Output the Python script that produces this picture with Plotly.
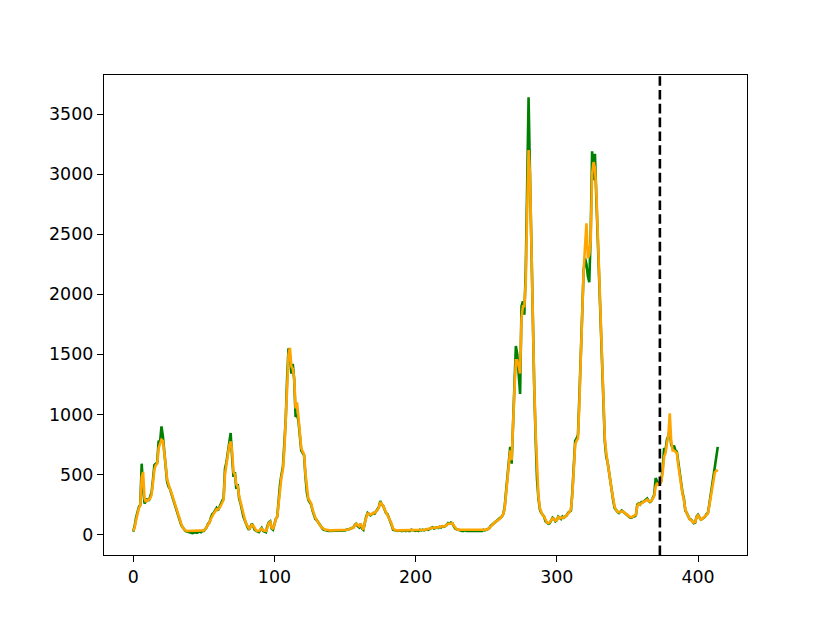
import plotly.graph_objects as go

actual = [
    25, 70, 140, 200, 230, 250, 590, 380, 260, 275,
    300, 280, 310, 350, 460, 580, 590, 600, 780, 770,
    900, 820, 690, 560, 440, 400, 380, 340, 300, 270,
    220, 190, 150, 110, 80, 60, 40, 30, 25, 20,
    15, 15, 12, 15, 20, 15, 18, 25, 20, 30,
    30, 45, 60, 90, 100, 140, 170, 180, 200, 220,
    200, 230, 250, 280, 300, 550, 600, 690, 760, 845,
    650, 480, 520, 380, 420, 300, 260, 200, 150, 120,
    80, 60, 40, 60, 90, 70, 40, 30, 25, 20,
    40, 55, 30, 25, 20, 70, 100, 110, 50, 40,
    100, 130, 150, 300, 420, 500, 560, 750, 960, 1300,
    1550, 1490, 1340, 1420, 1290, 980, 1000, 950, 850, 700,
    680, 660, 480, 350, 290, 270, 250, 200, 160, 130,
    120, 100, 90, 60, 50, 40, 40, 35, 30, 30,
    30, 30, 35, 30, 30, 30, 35, 30, 30, 35,
    35, 40, 40, 45, 50, 55, 60, 80, 90, 70,
    60, 90, 50, 40, 110, 150, 180, 170, 160, 170,
    180, 175, 190, 210, 230, 280, 250, 240, 200, 180,
    170, 140, 120, 80, 40, 35, 30, 30, 35, 30,
    30, 30, 35, 30, 35, 30, 30, 40, 35, 35,
    30, 35, 30, 40, 35, 40, 35, 40, 45, 40,
    50, 55, 60, 50, 55, 60, 55, 65, 60, 70,
    65, 70, 80, 95, 90, 100, 95, 70, 50, 45,
    40, 40, 35, 30, 30, 35, 30, 30, 35, 30,
    30, 35, 30, 35, 30, 30, 35, 30, 40, 35,
    40, 45, 50, 70, 80, 95, 100, 110, 120, 130,
    140, 150, 170, 220, 350, 480, 600, 730, 590, 900,
    1250, 1570, 1500, 1350, 1170, 1900, 1940, 1830, 2200, 2900,
    3640, 3000, 2350, 1600, 1230, 800, 460, 300, 210, 180,
    160, 150, 110, 100, 90, 95, 120, 140, 130, 110,
    120, 150, 140, 130, 150, 140, 150, 160, 180, 190,
    200, 350, 600, 780, 800, 830, 1150, 1550, 1900, 2200,
    2300, 2250, 2150, 2100, 2500, 3190, 2950, 3170, 2800, 2450,
    2100, 1800, 1450, 1100, 775, 650, 600, 520, 430, 350,
    280, 220, 200, 190, 180, 190, 200, 190, 180, 170,
    160, 150, 140, 140, 150, 150, 160, 250, 260, 250,
    270, 270, 280, 290, 300, 280, 270, 280, 300, 330,
    470, 450, 420, 430, 450, 550, 720, 700, 790, 820,
    880, 750, 720, 740, 700, 690, 600, 500, 420, 350,
    300, 200, 180, 150, 130, 125, 110, 95, 100, 150,
    165, 140, 125, 130, 140, 150, 170, 180, 250, 330,
    400, 500, 560, 620, 730,
]

predicted = [
    30, 60, 120, 180, 220, 240, 480, 520, 300, 270,
    290, 290, 300, 330, 420, 540, 580, 590, 720, 760,
    790, 780, 700, 580, 460, 410, 380, 350, 310, 280,
    230, 190, 160, 120, 90, 60, 45, 35, 30, 30,
    30, 30, 30, 30, 30, 30, 30, 30, 30, 35,
    35, 45, 60, 85, 100, 130, 160, 175, 190, 210,
    210, 220, 240, 270, 290, 500, 580, 660, 740, 775,
    700, 520, 500, 420, 400, 320, 270, 210, 160, 130,
    90, 70, 50, 60, 80, 75, 50, 35, 30, 30,
    40, 50, 35, 30, 30, 60, 95, 105, 60, 45,
    90, 125, 150, 280, 400, 480, 540, 700, 950, 1280,
    1500, 1555, 1400, 1380, 1300, 1050, 1100, 980, 870, 720,
    690, 670, 500, 370, 300, 280, 260, 210, 170, 140,
    120, 100, 90, 65, 55, 45, 40, 40, 35, 35,
    35, 35, 35, 35, 35, 35, 35, 35, 35, 35,
    35, 40, 40, 45, 50, 55, 60, 75, 90, 80,
    70, 90, 60, 40, 100, 140, 175, 175, 165, 170,
    180, 180, 190, 205, 225, 270, 255, 240, 210, 185,
    170, 145, 125, 90, 50, 40, 35, 35, 35, 35,
    35, 35, 35, 35, 35, 35, 35, 40, 35, 35,
    35, 35, 35, 40, 40, 40, 40, 40, 45, 45,
    50, 55, 55, 55, 55, 60, 60, 65, 65, 70,
    65, 70, 80, 90, 90, 95, 95, 75, 55, 45,
    40, 40, 35, 35, 35, 35, 35, 35, 35, 35,
    35, 35, 35, 35, 35, 35, 35, 35, 40, 40,
    40, 45, 50, 65, 80, 90, 100, 110, 115, 125,
    135, 150, 170, 210, 330, 470, 600, 700, 620, 850,
    1200, 1450, 1450, 1400, 1340, 1800, 1900, 1900, 2100, 2700,
    3200, 3000, 2400, 1700, 1250, 850, 500, 320, 220, 180,
    160, 150, 120, 100, 95, 100, 120, 135, 130, 115,
    120, 145, 140, 135, 145, 140, 150, 160, 175, 190,
    210, 330, 560, 750, 780, 800, 1100, 1500, 1850, 2200,
    2400, 2590, 2300, 2330, 2450, 3000, 3100, 3050, 2850, 2500,
    2100, 1800, 1450, 1100, 800, 680, 610, 530, 440, 360,
    290, 230, 205, 190, 185, 190, 195, 190, 180, 170,
    160, 155, 145, 145, 150, 155, 165, 240, 255, 250,
    265, 270, 275, 285, 290, 280, 275, 280, 300, 320,
    400, 430, 414, 420, 440, 520, 650, 680, 760, 820,
    1010, 780, 700, 700, 690, 680, 580, 490, 410, 340,
    290, 210, 180, 150, 130, 120, 110, 100, 105, 145,
    160, 140, 125, 130, 140, 150, 165, 175, 240, 310,
    380, 470, 520, 530, 540,
]

cutoff_index = 373
x_ticks = [0, 100, 200, 300, 400]
y_ticks = [0, 500, 1000, 1500, 2000, 2500, 3000, 3500]

idx = list(range(len(actual)))

fig = go.Figure()
fig.add_trace(go.Scatter(x=idx, y=actual, mode="lines",
                         line=dict(color="green", width=2.6), showlegend=False))
fig.add_trace(go.Scatter(x=list(range(len(predicted))), y=predicted, mode="lines",
                         line=dict(color="orange", width=2.6), showlegend=False))
fig.add_shape(type="line", xref="x", yref="paper", x0=cutoff_index, x1=cutoff_index,
              y0=0, y1=1, line=dict(color="black", width=2.6, dash="9.6px,4.2px"))

axis_common = dict(showline=True, mirror=True, linecolor="black", linewidth=1.4,
                   ticks="outside", ticklen=6, tickwidth=1.4, tickcolor="black",
                   showgrid=False, zeroline=False,
                   tickfont=dict(family="DejaVu Sans", size=17.4, color="black"))

n = len(actual) - 1
# page body has an 8px default margin; compensate so the axes land where the reference has them
fig.update_layout(
    width=822, height=615,
    margin=dict(l=96, r=83, t=67, b=68),
    paper_bgcolor="white", plot_bgcolor="white",
    xaxis=dict(range=[-0.05 * n, n * 1.05], tickvals=x_ticks, **axis_common),
    yaxis=dict(range=[-170, 3825], tickvals=y_ticks, **axis_common),
)

fig.write_html("out.html")
